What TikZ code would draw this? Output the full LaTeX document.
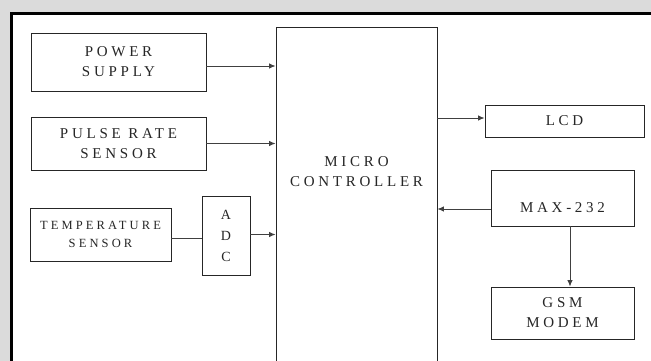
\documentclass[tikz,border=0pt]{standalone}
\usepackage{fontspec}
\setmainfont{Liberation Serif}
\newfontfamily\blkfont[LetterSpace=25]{Liberation Serif}
\usetikzlibrary{arrows.meta}
\begin{document}
\begin{tikzpicture}[x=1pt,y=-1pt,
  blk/.style={draw=black!85,line width=0.8pt,fill=white,rectangle,inner sep=0pt,
     align=center,font=\blkfont\fontsize{15}{20}\selectfont,text=black!85},
  lbl/.style={font=\blkfont\fontsize{15}{20}\selectfont,text=black!85,align=center,inner sep=0pt},
  conn/.style={line width=1pt,draw=black!75,-{Latex[length=6.5pt,width=5.5pt]}},
  plain/.style={line width=1pt,draw=black!75}]
\useasboundingbox (0,0) rectangle (651,360);
\clip (-5,-5) rectangle (656,365);
\fill[gray!28] (-5,-5) rectangle (656,365);
\fill[white] (11,13) rectangle (656,365);
\draw[line width=3pt] (656,13) -- (11,13) -- (11,365);
\node[blk,minimum width=175pt,minimum height=58pt] (power) at (118.5,62) {POWER\\SUPPLY};
\node[blk,minimum width=175pt,minimum height=53pt] (pulse) at (118.5,143.5) {PULSE RATE\\SENSOR};
\node[blk,minimum width=141pt,minimum height=53pt,font=\blkfont\fontsize{12.5}{18}\selectfont] (temp) at (100.5,234.5) {TEMPERATURE\\SENSOR};
\node[blk,minimum width=48pt,minimum height=79pt,font=\blkfont\fontsize{14}{21}\selectfont] (adc) at (226,235.5) {A\\D\\C};
\node[blk,minimum width=161pt,minimum height=353pt] (micro) at (356.5,203.5) {};
\node[lbl] (microlbl) at (356.5,172) {MICRO\\CONTROLLER};
\node[blk,minimum width=159pt,minimum height=32pt] (lcd) at (564.5,121) {LCD};
\node[blk,minimum width=143pt,minimum height=56pt] (max) at (562.5,198) {};
\node[lbl] (maxlbl) at (562.5,208) {MAX-232};
\node[blk,minimum width=143pt,minimum height=52pt] (gsm) at (562.5,313) {GSM\\MODEM};
\draw[conn] ([yshift=-4pt]power.east) -- ([yshift=-4pt]power.east -| micro.west);
\draw[conn] (pulse.east) -- (pulse.east -| micro.west);
\draw[plain] ([yshift=-4pt]temp.east) -- ([yshift=-4pt]temp.east -| adc.west);
\draw[conn] ([yshift=1pt]adc.east) -- ([yshift=1pt]adc.east -| micro.west);
\draw[conn] ([yshift=3pt]lcd.west -| micro.east) -- ([yshift=3pt]lcd.west);
\draw[conn] ([yshift=-11pt]max.west) -- ([yshift=-11pt]max.west -| micro.east);
\draw[conn] ([xshift=7.5pt]max.south) -- ([xshift=7.5pt]max.south |- gsm.north);
\end{tikzpicture}
\end{document}
